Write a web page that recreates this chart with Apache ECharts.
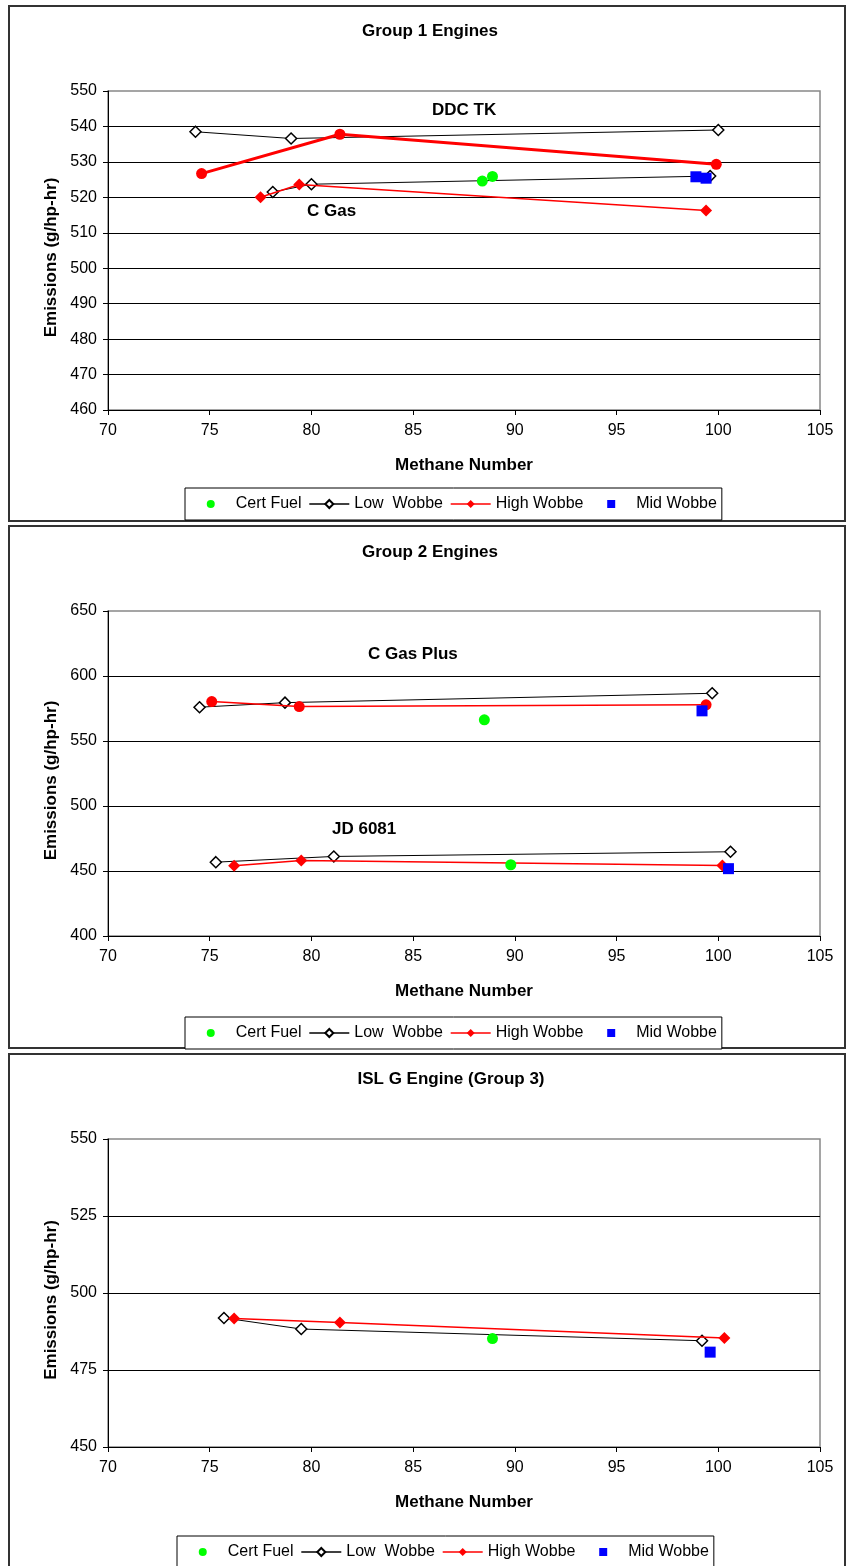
<!DOCTYPE html>
<html>
<head>
<meta charset="utf-8">
<title>Emissions vs Methane Number</title>
<script src="https://cdn.jsdelivr.net/npm/echarts@6/dist/echarts.min.js"></script>
<style>
    html, body { margin: 0; padding: 0; background: #fff; }
    #chart { width: 846px; height: 1566px; }
</style>
</head>
<body>
<div id="chart"></div>
<script>
// points are [methane number, emissions g/hp-hr]

// Group 1 engines
const g1CertFuel = [[88.4, 524.6], [88.9, 525.9]];
const g1MidWobbe = [[98.9, 525.8], [99.4, 525.4]];
const g1LowDdc = [[74.3, 538.5], [79.0, 536.6], [100.0, 539.0]];
const g1HighDdc = [[74.6, 526.7], [81.4, 537.8], [99.9, 529.3]];
const g1LowCGas = [[78.1, 521.5], [80.0, 523.7], [99.6, 526.0]];
const g1HighCGas = [[77.5, 520.0], [79.4, 523.6], [99.4, 516.3]];

// Group 2 engines
const g2CertFuel = [[88.5, 566.3], [89.8, 454.8]];
const g2MidWobbe = [[99.2, 573.2], [100.5, 451.8]];
const g2LowCGasPlus = [[74.5, 576.0], [78.7, 579.5], [99.7, 586.7]];
const g2HighCGasPlus = [[75.1, 580.3], [79.4, 576.5], [99.4, 577.8]];
const g2LowJd = [[75.3, 456.8], [81.1, 461.2], [100.6, 464.8]];
const g2HighJd = [[76.2, 454.0], [79.5, 458.1], [100.2, 454.3]];

// ISL G engine (group 3)
const g3CertFuel = [[88.9, 485.2]];
const g3MidWobbe = [[99.6, 480.8]];
const g3Low = [[75.7, 491.9], [79.5, 488.3], [99.2, 484.5]];
const g3High = [[76.2, 491.7], [81.4, 490.4], [100.3, 485.4]];

const panelTitles = ['Group 1 Engines', 'Group 2 Engines', 'ISL G Engine (Group 3)'];
const legendNames = ['Cert Fuel', 'Low  Wobbe', 'High Wobbe', 'Mid Wobbe'];
const xRange = [70, 105, 5];
const yRanges = [[460, 550, 10], [400, 650, 50], [450, 550, 25]];

const FONT = '"Liberation Sans", Arial, sans-serif';

// layout of the three panels (pixels)
const grids = [
    { left: 108, top: 91, width: 712, height: 319 },
    { left: 108, top: 611, width: 712, height: 325 },
    { left: 108, top: 1139, width: 712, height: 308 }
];
const titlePos = [[430, 23], [430, 544], [451, 1071]];
const legendPos = [[185, 488], [185, 1017], [177, 1536]];
const frames = [[9, 6, 836, 515], [9, 526, 836, 522], [9, 1054, 836, 530]];

function lowSeries(data, idx) {
    return {
        name: 'Low  Wobbe', type: 'line', xAxisIndex: idx, yAxisIndex: idx, data: data,
        symbol: 'diamond', symbolSize: 11,
        lineStyle: { color: '#000', width: 1 },
        itemStyle: { color: '#fff', borderColor: '#000', borderWidth: 1.5 },
        z: 2
    };
}

function highSeries(data, idx, symbol, width, size) {
    return {
        name: 'High Wobbe', type: 'line', xAxisIndex: idx, yAxisIndex: idx, data: data,
        symbol: symbol, symbolSize: size,
        lineStyle: { color: '#ff0000', width: width },
        itemStyle: { color: '#ff0000' },
        z: 3
    };
}

// markers only: a line series with an invisible line, so the legend icon
// gets the same layout as the line entries
function pointSeries(name, data, idx, symbol, color, size) {
    return {
        name: name, type: 'line', xAxisIndex: idx, yAxisIndex: idx, data: data,
        symbol: symbol, symbolSize: size, showSymbol: true,
        lineStyle: { color: 'rgba(0,0,0,0)', width: 0 },
        itemStyle: { color: color },
        z: 4
    };
}

// first "High Wobbe" series gives the legend icon, so the thin diamond one goes first
const series = [
    lowSeries(g1LowDdc, 0),
    lowSeries(g1LowCGas, 0),
    highSeries(g1HighCGas, 0, 'diamond', 1.5, 12),
    highSeries(g1HighDdc, 0, 'circle', 3, 11),
    pointSeries('Cert Fuel', g1CertFuel, 0, 'circle', '#00ff00', 11),
    pointSeries('Mid Wobbe', g1MidWobbe, 0, 'rect', '#0000ff', 11),

    lowSeries(g2LowCGasPlus, 1),
    lowSeries(g2LowJd, 1),
    highSeries(g2HighCGasPlus, 1, 'circle', 1.5, 11),
    highSeries(g2HighJd, 1, 'diamond', 1.5, 12),
    pointSeries('Cert Fuel', g2CertFuel, 1, 'circle', '#00ff00', 11),
    pointSeries('Mid Wobbe', g2MidWobbe, 1, 'rect', '#0000ff', 11),

    lowSeries(g3Low, 2),
    highSeries(g3High, 2, 'diamond', 1.5, 12),
    pointSeries('Cert Fuel', g3CertFuel, 2, 'circle', '#00ff00', 11),
    pointSeries('Mid Wobbe', g3MidWobbe, 2, 'rect', '#0000ff', 11)
];

const xAxes = grids.map(function (g, i) {
    return {
        gridIndex: i, type: 'value',
        min: xRange[0], max: xRange[1], interval: xRange[2],
        name: 'Methane Number', nameLocation: 'middle', nameGap: 47,
        nameTextStyle: { fontFamily: FONT, fontSize: 17, fontWeight: 'bold', color: '#000' },
        axisLine: { lineStyle: { color: '#000', width: 1 } },
        axisTick: { show: true, length: 5, lineStyle: { color: '#000' } },
        axisLabel: { margin: 13, fontFamily: FONT, fontSize: 16, color: '#000' },
        splitLine: { show: false }
    };
});

const yAxes = yRanges.map(function (r, i) {
    return {
        gridIndex: i, type: 'value',
        min: r[0], max: r[1], interval: r[2],
        name: 'Emissions (g/hp-hr)', nameLocation: 'middle', nameGap: 48,
        nameTextStyle: { fontFamily: FONT, fontSize: 17, fontWeight: 'bold', color: '#000', padding: [0, 14, 0, 0] },
        axisLine: { show: true, lineStyle: { color: '#000', width: 1 } },
        axisTick: { show: true, length: 5, lineStyle: { color: '#000' } },
        axisLabel: { margin: 11, fontFamily: FONT, fontSize: 16, color: '#000' },
        splitLine: { show: true, showMaxLine: false, lineStyle: { color: '#000', width: 1 } }
    };
});

const titles = panelTitles.map(function (t, i) {
    return {
        text: t, left: titlePos[i][0], top: titlePos[i][1], textAlign: 'center', padding: 0,
        textStyle: { fontFamily: FONT, fontSize: 17, fontWeight: 'bold', color: '#000' }
    };
});

const legends = legendPos.map(function (p) {
    return {
        data: legendNames, left: p[0], top: p[1],
        itemWidth: 40, itemHeight: 10, itemGap: 7,
        padding: [7, 5, 7, 5],
        borderColor: '#000', borderWidth: 1, backgroundColor: '#fff',
        selectedMode: false,
        lineStyle: { width: 1.5 },
        textStyle: { fontFamily: FONT, fontSize: 16, color: '#000', lineHeight: 18 }
    };
});

// panel frames and engine labels
const graphics = frames.map(function (f) {
    return {
        type: 'rect', shape: { x: f[0], y: f[1], width: f[2], height: f[3] },
        style: { fill: 'none', stroke: '#333', lineWidth: 2 }, z: -1
    };
});
const notes = [['DDC TK', 432, 110], ['C Gas', 307, 211], ['C Gas Plus', 368, 654], ['JD 6081', 332, 829]];
notes.forEach(function (n) {
    graphics.push({
        type: 'text', x: n[1], y: n[2],
        style: { text: n[0], font: 'bold 17px ' + FONT, fill: '#000', textVerticalAlign: 'middle' }, z: 10
    });
});

const chart = echarts.init(document.getElementById('chart'), null, { renderer: 'canvas' });
chart.setOption({
    animation: false,
    backgroundColor: '#fff',
    title: titles,
    legend: legends,
    grid: grids.map(function (g) {
        return Object.assign({ show: true, borderColor: '#888', borderWidth: 1.5, backgroundColor: '#fff' }, g);
    }),
    xAxis: xAxes,
    yAxis: yAxes,
    graphic: graphics,
    series: series
});
</script>
</body>
</html>
